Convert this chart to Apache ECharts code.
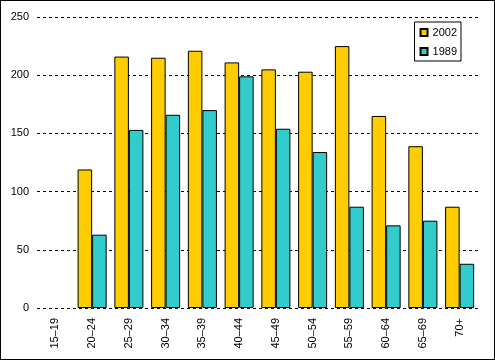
<!DOCTYPE html>
<html><head><meta charset="utf-8">
<script src="https://cdn.jsdelivr.net/npm/echarts@6/dist/echarts.min.js"></script>
<style>html,body{margin:0;padding:0;background:#fff}#c{width:493px;height:358px;border:1px solid #000}</style>
</head><body><div id="c"></div>
<script>
const categories = ['15–19','20–24','25–29','30–34','35–39','40–44','45–49','50–54','55–59','60–64','65–69','70+'];
const series2002 = [null,119,216,215,221,211,205,203,225,165,139,87];
const series1989 = [null,63,153,166,170,199,154,134,87,71,75,38];
const yTicks = [0,50,100,150,200,250];

const chart = echarts.init(document.getElementById('c'), null, {renderer:'canvas'});
const font = {fontFamily:'Liberation Sans, Arial, sans-serif', fontSize:11, color:'#000'};
chart.setOption({
  animation:false,
  textStyle:font,
  grid:{left:36, right:16, top:16, bottom:51},
  legend:{
    orient:'vertical', right:33, top:21,
    data:['2002','1989'],
    itemWidth:7, itemHeight:7, itemGap:8,
    borderColor:'#000', borderWidth:1, padding:[5,4,4,5],
    textStyle:{...font},
    icon:'rect'
  },
  xAxis:{
    type:'category', data:categories,
    axisLine:{show:false}, axisTick:{show:false},
    axisLabel:{...font, rotate:90, margin:10, interval:0}
  },
  yAxis:{
    type:'value', min:yTicks[0], max:yTicks[yTicks.length-1], interval:50,
    axisLine:{show:false}, axisTick:{show:false},
    axisLabel:{...font, margin:8},
    splitLine:{lineStyle:{color:'#000', type:[3,3], width:1}}
  },
  series:[
    {name:'2002', type:'bar', data:series2002, barGap:'0%', barCategoryGap:'21%',
     itemStyle:{color:'#FFCC00', borderColor:'#000', borderWidth:1}},
    {name:'1989', type:'bar', data:series1989, barGap:'0%', barCategoryGap:'21%',
     itemStyle:{color:'#33CCCC', borderColor:'#000', borderWidth:1}}
  ]
});
</script></body></html>
